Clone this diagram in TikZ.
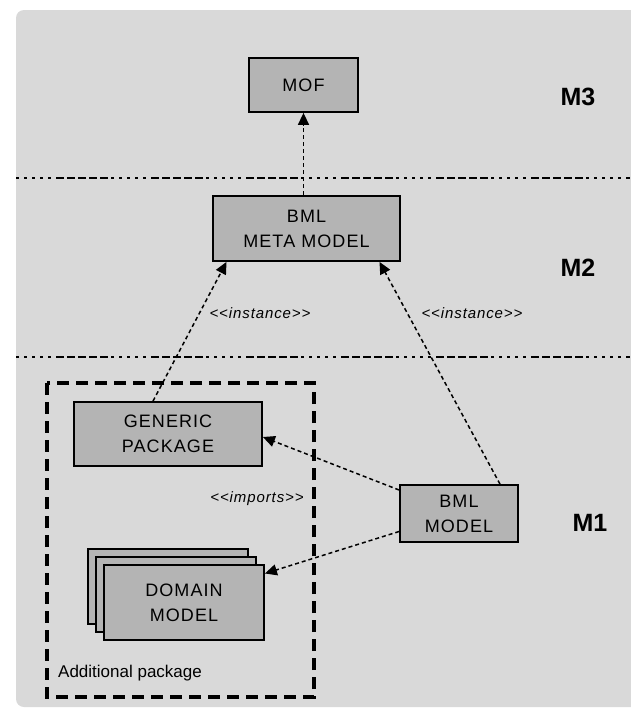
\documentclass[tikz,border=0pt]{standalone}
\usepackage{fontspec}
\setmainfont{Liberation Sans}
\newfontfamily\wide[LetterSpace=6]{Liberation Sans}
\usetikzlibrary{arrows.meta,calc}
\definecolor{bggray}{HTML}{D9D9D9}
\definecolor{boxgray}{HTML}{B4B4B4}
\tikzset{
  box/.style={draw=black, line width=1.8pt, fill=boxgray, align=center,
    font=\wide\fontsize{18}{25}\selectfont, inner sep=0pt},
  conn/.style={line width=1.5pt, dash pattern=on 4pt off 3pt,
    -{Triangle[length=12pt,width=11pt]}},
  sep/.style={line width=2.2pt, dash pattern=on 3pt off 5pt on 3pt off 5pt on 3pt off 5pt on 3pt off 5pt on 3pt off 5pt on 8pt off 3pt on 8pt off 3pt on 8pt off 3pt on 8pt off 3pt on 8pt off 3pt},
  lvl/.style={font=\bfseries\fontsize{25}{25}\selectfont},
  stereo/.style={font=\wide\itshape\fontsize{15}{15}\selectfont, inner sep=1pt},
}
\begin{document}
\begin{tikzpicture}[x=1pt,y=-1pt]
\useasboundingbox (0,0) rectangle (630,710);
\fill[bggray, rounded corners=8pt] (16,10) rectangle (640,707);
\draw[sep] (16,178) -- (630,178);
\draw[sep] (16,357) -- (630,357);
% package
\draw[line width=3.5pt, dash pattern=on 12pt off 7pt] (47,383) rectangle (314,697);
\node[anchor=west, font=\fontsize{17}{17}\selectfont, inner sep=0pt] (addpkg) at (58,673) {Additional package};
% boxes
\node[box, minimum width=109pt, minimum height=54pt] (mof) at (303.5,85) {MOF};
\node[box, minimum width=187pt, minimum height=65pt] (meta) at (306.5,228.5) {BML\\META MODEL};
\node[box, minimum width=188pt, minimum height=64pt] (generic) at (168,434) {GENERIC\\PACKAGE};
\node[box, minimum width=160pt, minimum height=75pt] (domainb) at (168,586.5) {};
\node[box, minimum width=160pt, minimum height=75pt] (domainm) at (176,594.5) {};
\node[box, minimum width=160pt, minimum height=75pt] (domain) at (184,602.5) {DOMAIN\\MODEL};
\node[box, minimum width=118pt, minimum height=57pt] (bml) at (459,513.5) {BML\\MODEL};
% levels
\node[lvl] (m3) at (578,97) {M3};
\node[lvl] (m2) at (578,268) {M2};
\node[lvl] (m1) at (590,523) {M1};
% connectors
\draw[conn] (meta.north -| mof.south) -- (mof.south);
\draw[conn] ([xshift=-15pt]generic.north) -- ([xshift=-80pt]meta.south);
\draw[conn] ([xshift=41pt]bml.north) -- ([xshift=73pt]meta.south);
\draw[conn] ([yshift=23.5pt]bml.west) -- ([yshift=-3pt]generic.east);
\draw[conn] ([yshift=-18pt]bml.west) -- ([yshift=29pt]domain.east);
% stereotypes
\node[stereo] (inst1) at (260,313) {<<instance>>};
\node[stereo] (inst2) at (472,313) {<<instance>>};
\node[stereo] (imp) at (257,499) {<<imports>>};
\end{tikzpicture}
\end{document}
